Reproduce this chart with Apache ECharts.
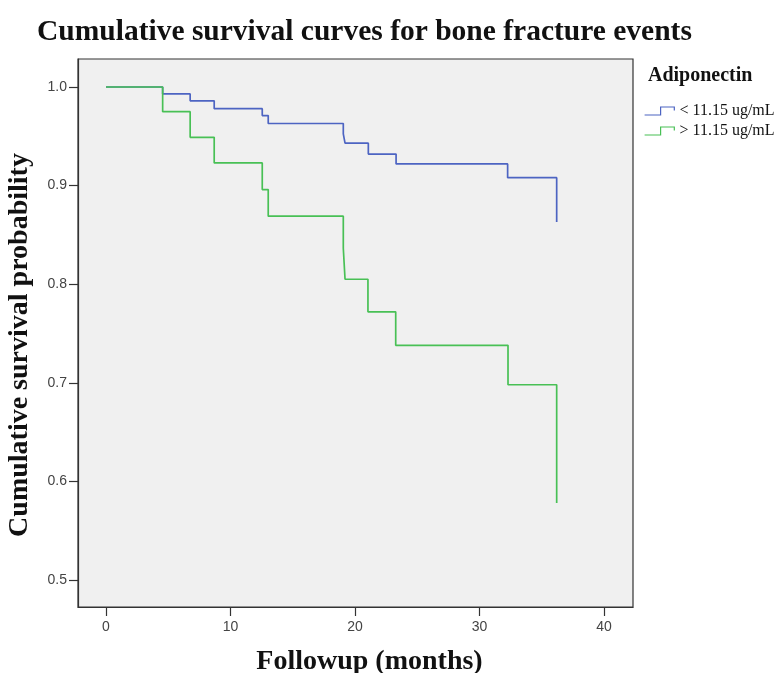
<!DOCTYPE html>
<html lang="en">
<head>
    <meta charset="UTF-8">
    <title>Cumulative survival curves</title>
    <style>
        html, body { margin: 0; padding: 0; background: #fff; }
    </style>
</head>
<body>
<div id="main" style="width:781px;height:673px"></div>
<script src="https://cdn.jsdelivr.net/npm/echarts@6/dist/echarts.min.js"></script>
<script>
    // Kaplan-Meier steps (months, survival)
    var lowTimes = [0, 4.55, 6.76, 8.69, 12.55, 13.03, 19.06, 19.2, 21.07, 23.3, 32.26, 36.2];
    var lowSurv = [1.0, 0.993, 0.986, 0.978, 0.971, 0.963, 0.9525, 0.943, 0.932, 0.922, 0.908, 0.863];
    var highTimes = [0, 4.55, 6.76, 8.69, 12.55, 13.03, 19.06, 19.2, 21.04, 23.27, 32.29, 36.2];
    var highSurv = [1.0, 0.975, 0.949, 0.923, 0.896, 0.869, 0.8365, 0.805, 0.772, 0.738, 0.698, 0.578];
    var groupNames = ['< 11.15 ug/mL', '> 11.15 ug/mL'];
    var xTicks = [0, 10, 20, 30, 40];
    var yTicks = [0.5, 0.6, 0.7, 0.8, 0.9, 1.0];

    var blue = '#4d64c2';
    var green = '#48c055';
    // little step glyph used in the legend
    var stepIcon = 'path://M0,7 L14,7 L14,0 L26,0 L26,3';

    function pairs(xs, ys) {
        var out = [];
        for (var i = 0; i < xs.length; i++) {
            out.push([xs[i], ys[i]]);
        }
        return out;
    }

    var chart = echarts.init(document.getElementById('main'));
    var option = {
        animation: false,
        backgroundColor: '#fff',
        title: [
            {
                text: 'Cumulative survival curves for bone fracture events',
                left: 32,
                top: 12,
                textStyle: {fontFamily: 'Liberation Serif', fontWeight: 'bold', fontSize: 29.5, color: '#111'}
            },
            {
                text: 'Adiponectin',
                left: 643,
                top: 61,
                textStyle: {fontFamily: 'Liberation Serif', fontWeight: 'bold', fontSize: 20, color: '#111'}
            }
        ],
        legend: {
            orient: 'vertical',
            left: 644,
            top: 103,
            padding: 0,
            itemWidth: 30,
            itemHeight: 8,
            itemGap: 4,
            textStyle: {fontFamily: 'Liberation Serif', fontSize: 16, color: '#111'},
            data: [
                {name: groupNames[0], icon: stepIcon, itemStyle: {color: 'transparent', borderColor: blue, borderWidth: 1.2}},
                {name: groupNames[1], icon: stepIcon, itemStyle: {color: 'transparent', borderColor: green, borderWidth: 1.2}}
            ]
        },
        grid: {
            left: 78,
            right: 148,
            top: 59,
            bottom: 66,
            outerBoundsMode: 'none',
            show: true,
            backgroundColor: '#f0f0f0',
            borderColor: '#333',
            borderWidth: 1.2
        },
        xAxis: {
            type: 'value',
            min: -2.25,
            max: 42.33,
            name: 'Followup (months)',
            nameLocation: 'middle',
            nameGap: 41,
            nameTextStyle: {
                fontFamily: 'Liberation Serif', fontWeight: 'bold', fontSize: 28, color: '#111',
                padding: [0, 0, 0, 28]
            },
            axisLine: {show: true, onZero: false, lineStyle: {color: '#333', width: 1.2}},
            axisTick: {show: true, length: 9, customValues: xTicks, lineStyle: {color: '#333', width: 1.2}},
            axisLabel: {customValues: xTicks, margin: 13, fontFamily: 'Liberation Sans', fontSize: 14, color: '#444'},
            splitLine: {show: false}
        },
        yAxis: {
            type: 'value',
            min: 0.4726,
            max: 1.0284,
            name: 'Cumulative survival probability',
            nameLocation: 'middle',
            nameGap: 44,
            nameTextStyle: {
                fontFamily: 'Liberation Serif', fontWeight: 'bold', fontSize: 28, color: '#111',
                padding: [0, 24, 0, 0]
            },
            axisLine: {show: true, onZero: false, lineStyle: {color: '#333', width: 1.2}},
            axisTick: {show: true, length: 9, customValues: yTicks, lineStyle: {color: '#333', width: 1.2}},
            axisLabel: {
                customValues: yTicks,
                margin: 11,
                fontFamily: 'Liberation Sans',
                fontSize: 14,
                color: '#444',
                formatter: function (v) { return v.toFixed(1); }
            },
            splitLine: {show: false}
        },
        series: [
            {
                name: groupNames[0],
                type: 'line',
                step: 'end',
                symbol: 'none',
                data: pairs(lowTimes, lowSurv),
                lineStyle: {color: blue, width: 1.7},
                itemStyle: {color: blue}
            },
            {
                name: groupNames[1],
                type: 'line',
                step: 'end',
                symbol: 'none',
                data: pairs(highTimes, highSurv),
                lineStyle: {color: green, width: 1.7},
                itemStyle: {color: green}
            }
        ]
    };
    chart.setOption(option);
</script>
</body>
</html>
